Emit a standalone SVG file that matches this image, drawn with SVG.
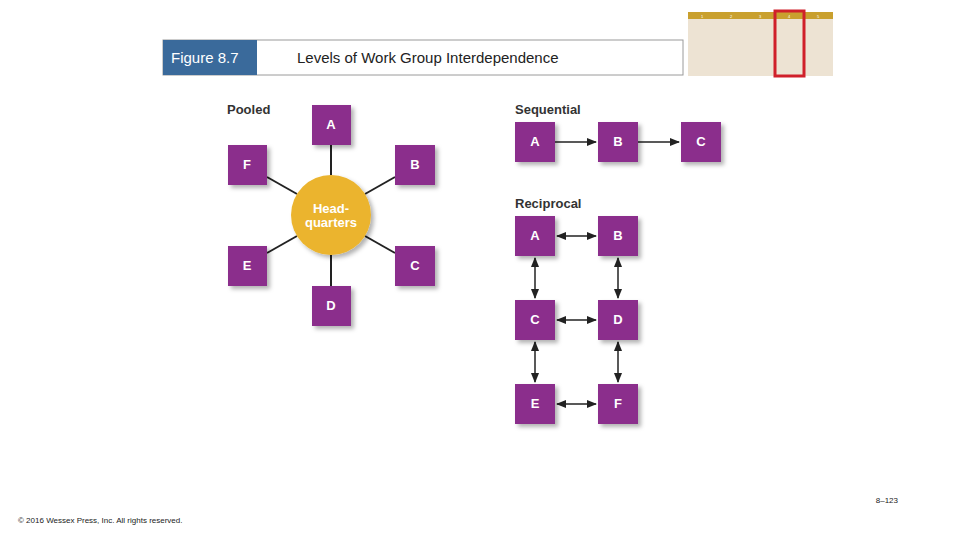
<svg xmlns="http://www.w3.org/2000/svg" width="960" height="540" viewBox="0 0 960 540">
<style>
.t{font-family:"Liberation Sans",Arial,sans-serif}
.box{fill:#8B2F8C}
.bl{font-family:"Liberation Sans",Arial,sans-serif;font-weight:bold;font-size:13px;fill:#fff;text-anchor:middle}
.hd{font-family:"Liberation Sans",Arial,sans-serif;font-weight:bold;font-size:13px;fill:#333}
.ln{stroke:#222;stroke-width:2;fill:none}
.ar{stroke:#222;stroke-width:1.5;fill:none;marker-start:url(#m);marker-end:url(#m)}
.sq{stroke:#222;stroke-width:1.5;fill:none;marker-end:url(#m)}
</style>
<defs>
<marker id="m" viewBox="0 0 10 10" refX="9" refY="5" markerWidth="7" markerHeight="7" orient="auto-start-reverse"><path d="M0,1 L10,5 L0,9 Z" fill="#222"/></marker>
<filter id="sh" x="-20%" y="-20%" width="150%" height="150%"><feDropShadow dx="3" dy="3" stdDeviation="2" flood-color="#000" flood-opacity="0.3"/></filter>
</defs>
<rect width="960" height="540" fill="#fff"/>
<g id="header">
<rect x="163" y="40" width="520" height="35" fill="#fff" stroke="#9a9a9a"/>
<rect x="163" y="40" width="94" height="35" fill="#3A6A9B"/>
<text class="t" x="171" y="63" font-size="15" fill="#fff">Figure 8.7</text>
<text class="t" x="297" y="63" font-size="15" fill="#222">Levels of Work Group Interdependence</text>
</g>
<g id="thumbnail">
<rect x="688" y="12" width="145" height="64" fill="#EDE3D3"/>
<rect x="688" y="12" width="145" height="7" fill="#C9A02E"/>
<g class="t" font-size="4" fill="#fff" text-anchor="middle"><text x="702" y="18">1</text><text x="731" y="18">2</text><text x="760" y="18">3</text><text x="789" y="18">4</text><text x="818" y="18">5</text></g>
<rect x="775" y="11" width="29" height="65" fill="none" stroke="#D0202A" stroke-width="3"/>
</g>
<g id="connectors">
<line class="ln" x1="331" y1="145" x2="331" y2="175"/>
<line class="ln" x1="331" y1="255" x2="331" y2="286"/>
<line class="ln" x1="267" y1="177" x2="297" y2="194"/>
<line class="ln" x1="395" y1="177" x2="365" y2="194"/>
<line class="ln" x1="267" y1="253" x2="297" y2="236"/>
<line class="ln" x1="395" y1="253" x2="365" y2="236"/>
<line class="sq" x1="555" y1="142" x2="596" y2="142"/>
<line class="sq" x1="638" y1="142" x2="679" y2="142"/>
<line class="ar" x1="557" y1="236" x2="596" y2="236"/>
<line class="ar" x1="557" y1="320" x2="596" y2="320"/>
<line class="ar" x1="557" y1="404" x2="596" y2="404"/>
<line class="ar" x1="535" y1="258" x2="535" y2="298"/>
<line class="ar" x1="618" y1="258" x2="618" y2="298"/>
<line class="ar" x1="535" y1="342" x2="535" y2="382"/>
<line class="ar" x1="618" y1="342" x2="618" y2="382"/>
</g>
<text class="hd" x="227" y="114">Pooled</text>
<text class="hd" x="515" y="114">Sequential</text>
<text class="hd" x="515" y="208">Reciprocal</text>
<g id="hq"><circle cx="331" cy="215" r="40" fill="#EBB42E" filter="url(#sh)"/><text class="bl" x="331" y="213">Head-</text><text class="bl" x="331" y="227">quarters</text></g>
<g id="pA"><rect class="box" x="312" y="105" width="39" height="40" filter="url(#sh)"/><text class="bl" x="331" y="129">A</text></g>
<g id="pF"><rect class="box" x="228" y="145" width="39" height="40" filter="url(#sh)"/><text class="bl" x="247" y="169">F</text></g>
<g id="pB"><rect class="box" x="395" y="145" width="40" height="40" filter="url(#sh)"/><text class="bl" x="415" y="169">B</text></g>
<g id="pE"><rect class="box" x="228" y="246" width="39" height="40" filter="url(#sh)"/><text class="bl" x="247" y="270">E</text></g>
<g id="pC"><rect class="box" x="395" y="246" width="40" height="40" filter="url(#sh)"/><text class="bl" x="415" y="270">C</text></g>
<g id="pD"><rect class="box" x="312" y="286" width="39" height="40" filter="url(#sh)"/><text class="bl" x="331" y="310">D</text></g>
<g id="sA"><rect class="box" x="515" y="122" width="40" height="40" filter="url(#sh)"/><text class="bl" x="535" y="146">A</text></g>
<g id="sB"><rect class="box" x="598" y="122" width="40" height="40" filter="url(#sh)"/><text class="bl" x="618" y="146">B</text></g>
<g id="sC"><rect class="box" x="681" y="122" width="40" height="40" filter="url(#sh)"/><text class="bl" x="701" y="146">C</text></g>
<g id="rA"><rect class="box" x="515" y="216" width="40" height="40" filter="url(#sh)"/><text class="bl" x="535" y="240">A</text></g>
<g id="rB"><rect class="box" x="598" y="216" width="40" height="40" filter="url(#sh)"/><text class="bl" x="618" y="240">B</text></g>
<g id="rC"><rect class="box" x="515" y="300" width="40" height="40" filter="url(#sh)"/><text class="bl" x="535" y="324">C</text></g>
<g id="rD"><rect class="box" x="598" y="300" width="40" height="40" filter="url(#sh)"/><text class="bl" x="618" y="324">D</text></g>
<g id="rE"><rect class="box" x="515" y="384" width="40" height="40" filter="url(#sh)"/><text class="bl" x="535" y="408">E</text></g>
<g id="rF"><rect class="box" x="598" y="384" width="40" height="40" filter="url(#sh)"/><text class="bl" x="618" y="408">F</text></g>
<text class="t" x="898" y="503" font-size="8" fill="#222" text-anchor="end">8–123</text>
<text class="t" x="18" y="523" font-size="8" fill="#222">© 2016 Wessex Press, Inc. All rights reserved.</text>
</svg>
